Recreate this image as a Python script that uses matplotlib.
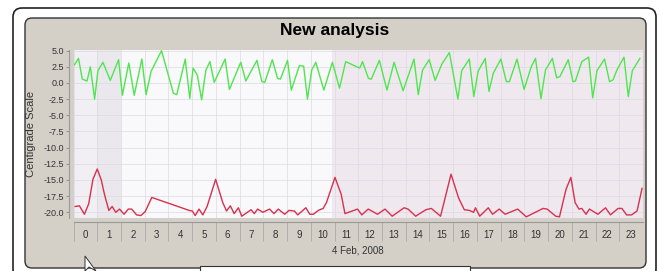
import matplotlib
matplotlib.use("Agg")
import matplotlib.pyplot as plt
from matplotlib.patches import FancyBboxPatch, Rectangle, Polygon

# data (hour of day, degrees)
green_x = [0.04, 0.21, 0.37, 0.57, 0.71, 0.89, 1.03, 1.24, 1.55, 1.90, 2.06, 2.33, 2.56, 2.88,
           3.06, 3.27, 3.71, 4.21, 4.35, 4.71, 4.90, 5.04, 5.22, 5.40, 5.58, 5.75, 5.93, 6.39,
           6.57, 7.05, 7.26, 7.73, 7.94, 8.06, 8.38, 8.60, 8.72, 9.02, 9.18, 9.52, 9.70, 9.86,
           10.04, 10.21, 10.55, 10.91, 11.21, 11.47, 12.06, 12.18, 12.43, 12.55, 12.89, 13.21,
           13.51, 13.89, 14.35, 14.53, 14.71, 14.99, 15.24, 15.52, 15.84, 16.20, 16.36, 16.68,
           16.87, 17.05, 17.35, 17.51, 17.69, 18.01, 18.24, 18.37, 18.69, 18.99, 19.29, 19.47,
           19.70, 19.89, 20.18, 20.36, 20.50, 20.85, 21.05, 21.15, 21.42, 21.71, 21.88, 22.06,
           22.38, 22.59, 22.74, 22.90, 23.20, 23.38, 23.55, 23.87]
green_y = [2.8, 3.8, 0.6, 0.3, 2.5, -2.5, 1.9, 3.2, 0.4, 3.6, -1.9, 3.1, -1.9, 3.7,
           -1.8, 1.8, 5.0, -1.6, -1.8, 3.7, -2.4, 2.3, 1.2, -2.6, 2.0, 3.3, 0.1, 3.7,
           -1.0, 3.2, 0.3, 3.5, 0.2, 0.1, 3.6, 0.7, 0.6, 3.5, -1.1, 2.7, 2.6, -2.5,
           2.0, 3.2, -1.1, 3.2, -0.8, 3.3, 2.3, 3.3, 0.7, 0.6, 3.5, -1.1,
           3.2, -1.2, 3.7, -1.8, 2.0, 3.6, 0.4, 2.9, 4.7, -2.5, 1.9, 3.7,
           -2.1, 1.8, 3.8, -1.3, 1.5, 3.7, 0.2, 0.2, 3.7, -1.0, 2.5, 3.8,
           -2.4, 2.0, 3.8, 0.8, 1.0, 3.6, 0.2, 0.3, 3.3, 4.0, -2.3, 1.9,
           3.7, 0.2, 0.5, 2.0, 4.0, -2.1, 1.9, 3.8]

red_x = [0.07, 0.25, 0.46, 0.64, 0.82, 1.00, 1.17, 1.31, 1.49, 1.63, 1.78, 1.94, 2.13, 2.31,
         2.45, 2.66, 2.84, 3.02, 3.30, 4.87, 5.01, 5.13, 5.29, 5.45, 5.63, 5.99, 6.29, 6.45,
         6.61, 6.77, 6.95, 7.09, 7.25, 7.48, 7.62, 7.76, 7.98, 8.26, 8.45, 8.63, 8.90, 9.08,
         9.31, 9.45, 9.79, 9.96, 10.11, 10.32, 10.52, 10.66, 11.02, 11.28, 11.44, 11.97, 12.15,
         12.42, 12.81, 13.13, 13.43, 13.93, 14.10, 14.42, 14.85, 15.08, 15.47, 15.91, 16.23,
         16.47, 16.68, 16.86, 16.94, 17.12, 17.48, 17.66, 17.94, 18.19, 18.72, 19.08, 19.79,
         19.96, 20.32, 20.48, 20.76, 20.96, 21.14, 21.30, 21.42, 21.60, 21.74, 22.10, 22.42,
         22.63, 22.95, 23.11, 23.31, 23.52, 23.75, 23.96]
red_y = [-19.1, -19.0, -20.3, -18.7, -14.9, -13.3, -15.0, -17.3, -19.7, -19.1, -20.0, -19.5, -20.3, -19.5,
         -19.5, -20.4, -20.5, -19.9, -17.7, -19.7, -19.8, -20.5, -19.5, -20.4, -19.1, -14.9, -18.5, -19.8,
         -19.0, -20.2, -19.3, -20.6, -20.2, -19.6, -20.2, -19.5, -20.0, -19.5, -20.2, -19.5, -20.3, -19.7,
         -19.8, -20.4, -19.3, -20.3, -20.3, -19.7, -19.4, -18.5, -14.6, -17.2, -20.2, -19.5, -20.4,
         -19.5, -20.3, -19.5, -20.6, -19.3, -19.5, -20.6, -19.6, -19.4, -20.6, -14.1, -17.8,
         -19.6, -19.7, -20.0, -19.3, -20.6, -19.3, -20.3, -19.5, -20.3, -19.5, -20.7, -19.4,
         -19.5, -20.6, -20.7, -16.4, -14.6, -18.5, -19.5, -19.4, -20.3, -19.5, -20.3, -19.3,
         -20.4, -19.4, -19.4, -20.4, -20.4, -19.8, -16.3]

hours = list(range(24))
y_ticks = [5.0, 2.5, 0.0, -2.5, -5.0, -7.5, -10.0, -12.5, -15.0, -17.5, -20.0]

W, H = 660, 271
panel = "#d4d0c8"
txt = "#333333"
plt.rcParams["font.family"] = ["Liberation Sans", "DejaVu Sans"]

fig = plt.figure(figsize=(W / 100, H / 100), dpi=100)
fig.patch.set_facecolor("white")

# background frame, in pixel coordinates
bg = fig.add_axes([0, 0, 1, 1])
bg.set_xlim(0, W)
bg.set_ylim(H, 0)
bg.axis("off")
bg.add_patch(FancyBboxPatch((13, 8), 643, 270, boxstyle="round,pad=0,rounding_size=9",
                            fc="white", ec="#222222", lw=1.2))
bg.add_patch(FancyBboxPatch((25, 18), 621, 250, boxstyle="round,pad=0,rounding_size=7",
                            fc=panel, ec="#333333", lw=1.0))
bg.add_patch(Rectangle((200, 266), 270, 10, fc="white", ec="#333333", lw=0.8))
bg.add_patch(Polygon([(85, 256), (85, 271), (89, 267), (96, 271)], closed=True,
                     fc="white", ec="#333333", lw=0.7))
bg.text(335, 31, "New analysis", ha="center", va="center", fontsize=12.5,
        fontweight="bold", color="black")

left, right, top, bottom = 73.5, 643, 50, 218
ax = fig.add_axes([left / W, 1 - bottom / H, (right - left) / W, (bottom - top) / H])
ax.set_facecolor("#f3f1f4")

# shaded bands in the plot area
ax.axvspan(0, 1, color="#f1eff3", zorder=0, lw=0)
ax.axvspan(1, 2, color="#eae8ed", zorder=0, lw=0)
ax.axvspan(2, 10.9, color="#f9f8fa", zorder=0, lw=0)
ax.axvspan(10.9, 24, color="#efe9ef", zorder=0, lw=0)

ax.plot(green_x, green_y, color="#4ee64e", lw=1.0, zorder=3)
ax.plot(red_x, red_y, color="#d8304e", lw=1.0, zorder=3)

ax.set_xlim(0, 24)
ax.set_ylim(-20.88, 5.1)

ax.set_yticks(y_ticks)
ax.set_yticklabels([f"{v:.1f}" for v in y_ticks])
ax.tick_params(axis="y", length=2, width=0.6, color="#888888", pad=2,
               labelsize=6.5, labelcolor=txt)

ax.set_xticks(hours)
ax.set_xticklabels([])
ax.set_xticks([h + 0.5 for h in hours], minor=True)
ax.set_xticklabels([str(h) for h in hours], minor=True)
ax.tick_params(axis="x", which="major", length=14, width=0.6, color="#aaaaaa")
ax.tick_params(axis="x", which="minor", length=0, pad=6, labelsize=7, labelcolor=txt)

ax.grid(True, which="major", color="#dcdae2", lw=0.5, zorder=1)

for s in ["top", "right"]:
    ax.spines[s].set_visible(False)
for s in ["left", "bottom"]:
    ax.spines[s].set_position(("outward", 3))
    ax.spines[s].set_color("#999999")
    ax.spines[s].set_linewidth(0.8)

ax.set_ylabel("Centigrade Scale", fontsize=8, color=txt, labelpad=5)
ax.set_xlabel("4 Feb, 2008", fontsize=7, color=txt, labelpad=-1)

fig.savefig("out.png", dpi=100, facecolor=fig.get_facecolor())
